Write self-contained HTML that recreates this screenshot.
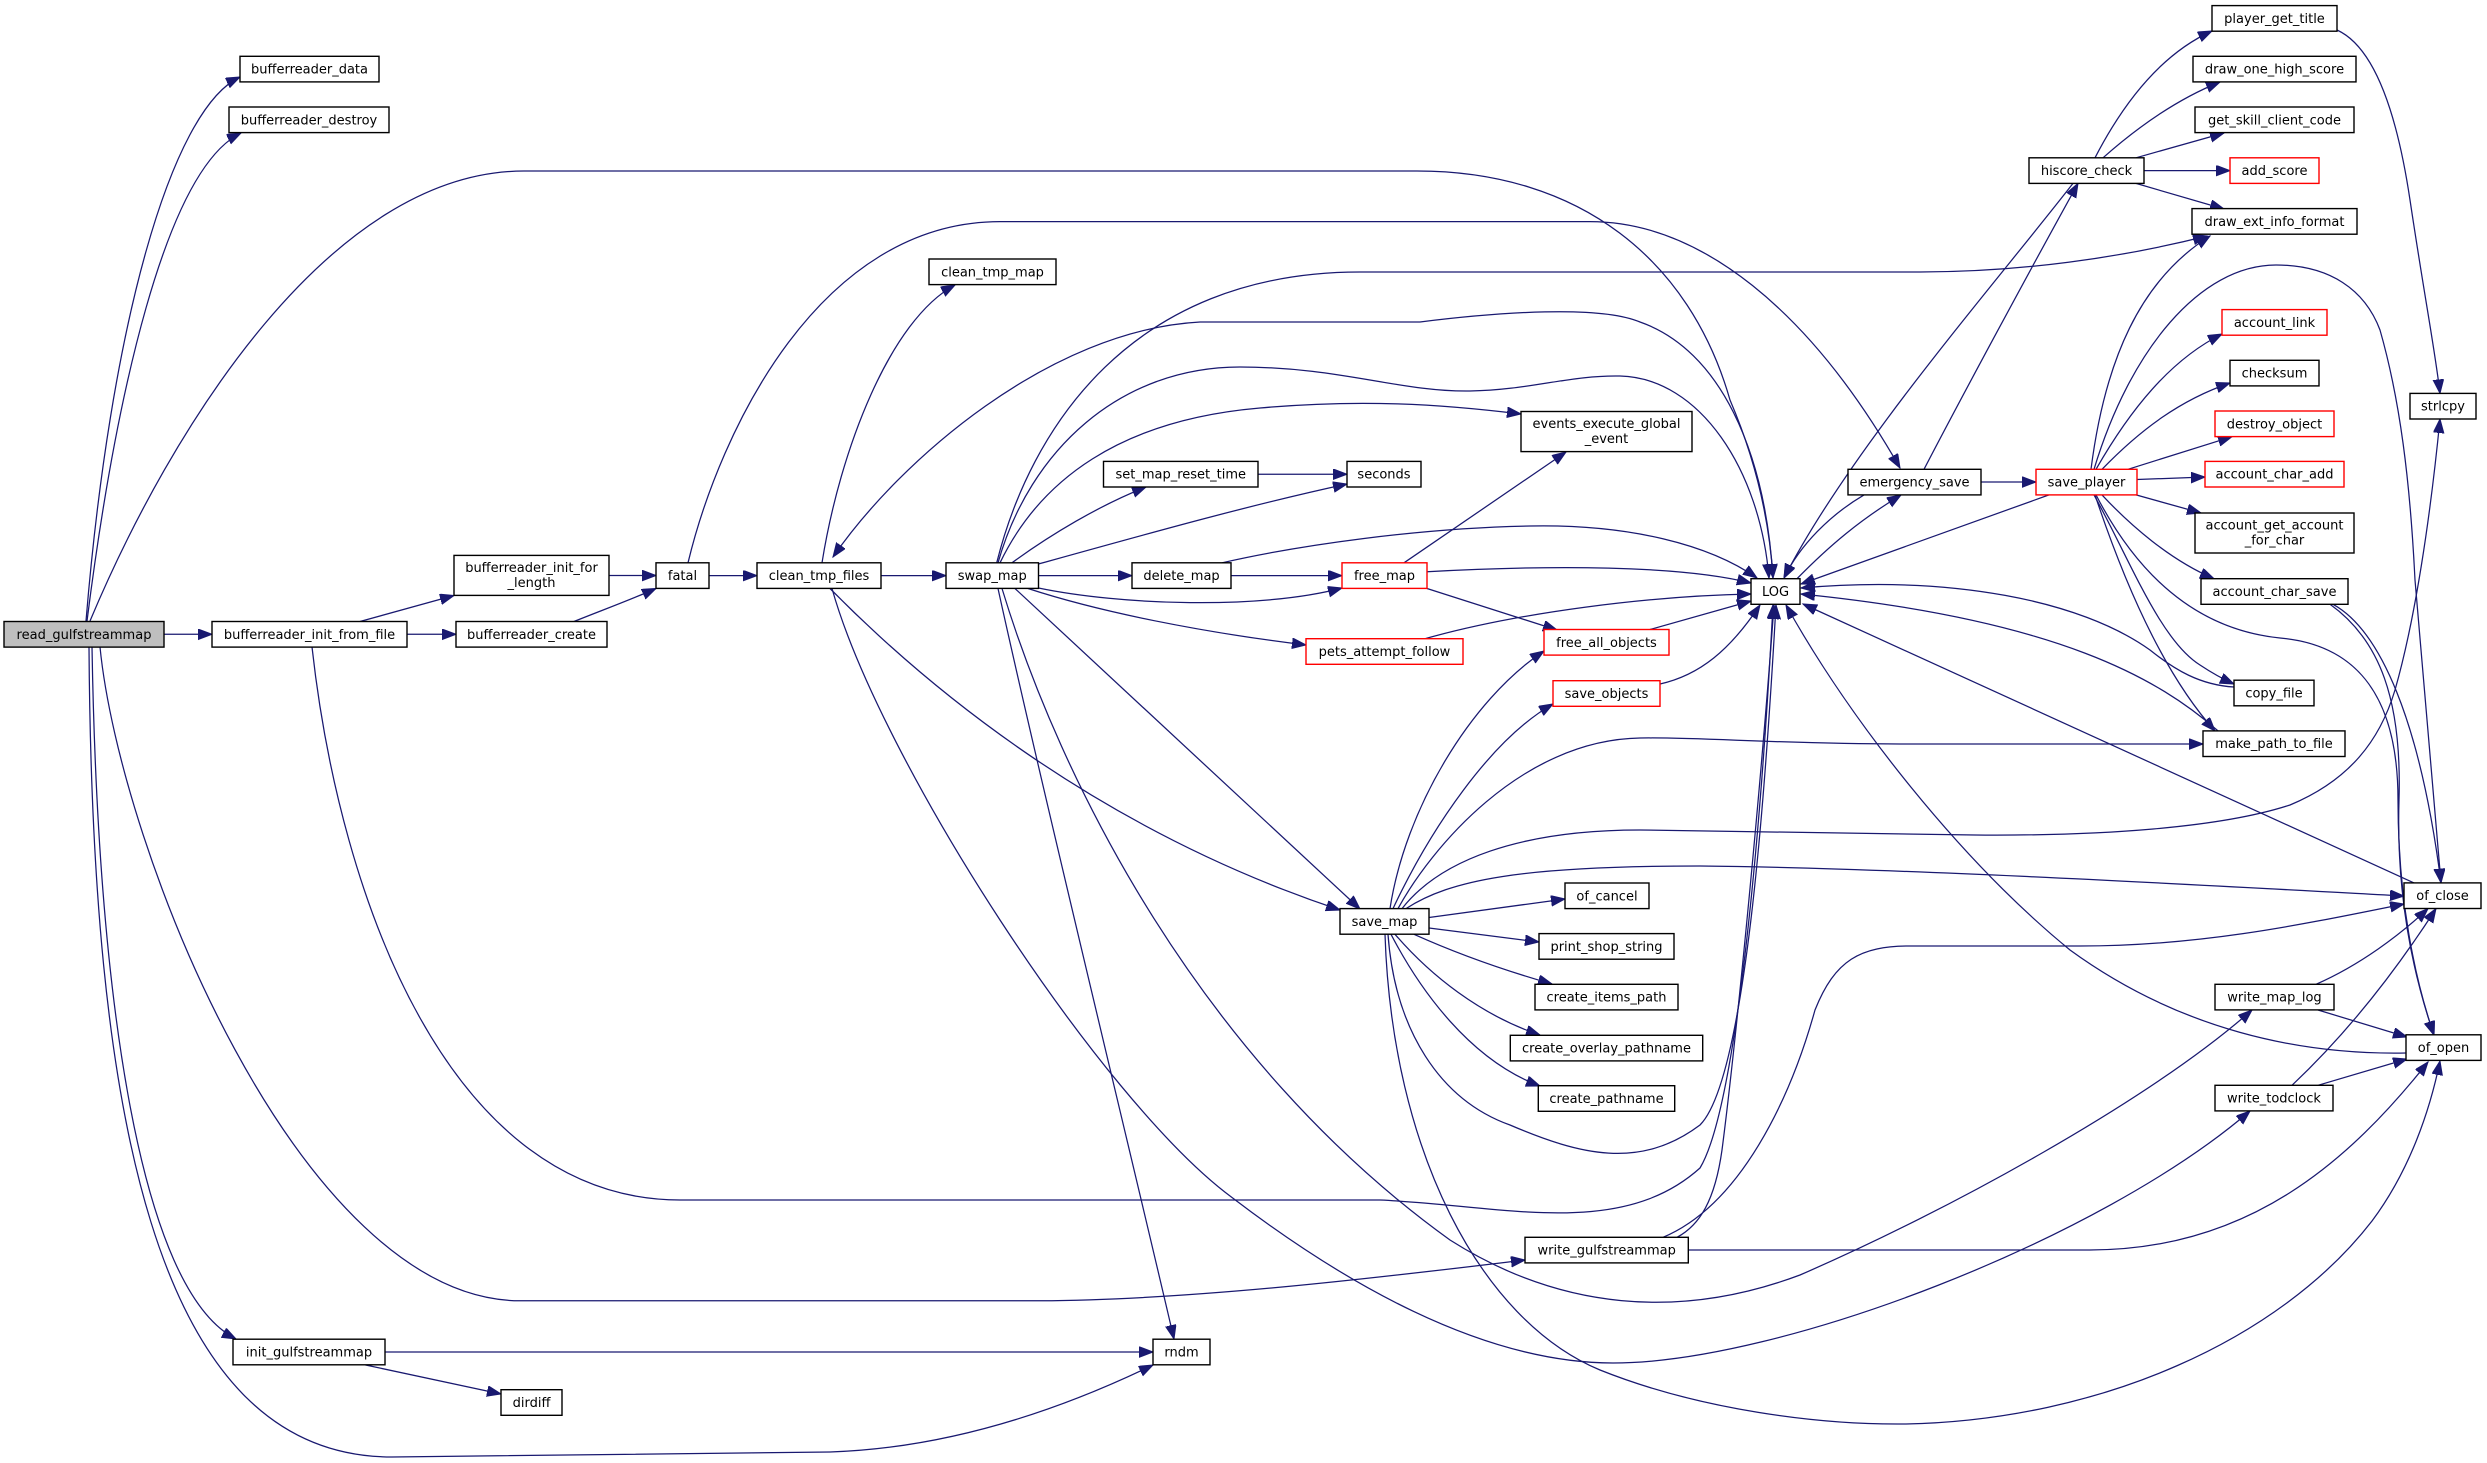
<!DOCTYPE html>
<html><head><meta charset="utf-8"><style>
html,body{margin:0;padding:0;background:#fff;}
svg{display:block;}
text{font-family:"DejaVu Sans","Liberation Sans",sans-serif;font-size:13px;fill:#000;text-anchor:middle;}
.e{fill:none;stroke:#191970;stroke-width:1.25;marker-end:url(#a);}
.n{fill:#fff;stroke:#000;stroke-width:1.4;}
.r{fill:#fff;stroke:#ff0000;stroke-width:1.4;}
</style></head><body>
<svg width="2487" height="1463" viewBox="0 0 2487 1463" xmlns="http://www.w3.org/2000/svg">
<defs><marker id="a" markerWidth="16" markerHeight="12" refX="14" refY="5.3" orient="auto" markerUnits="userSpaceOnUse"><path d="M0,0 L14,5.3 L0,10.6 z" fill="#191970" stroke="#191970" stroke-width="1"/></marker></defs>
<rect width="2487" height="1463" fill="#fff"/>
<g>
<path class="e" d="M86,621 C110,330 170,110 240,77"/>
<path class="e" d="M87,621 C115,400 165,170 241,133"/>
<path class="e" d="M90,621 C170,430 330,171 524,171 L1417,171 C1580,171 1690,260 1730,400 C1760,470 1770,530 1773,578"/>
<path class="e" d="M164,634.3 L212,634.3"/>
<path class="e" d="M100,647 C120,850 300,1300 520,1300.8 L1040,1300.8 C1200,1300 1400,1275 1525,1260"/>
<path class="e" d="M92,647 C98,1000 140,1290 236,1339"/>
<path class="e" d="M89,647 C92,1100 150,1457 392,1457 L830,1452 C950,1448 1060,1410 1153,1365"/>
<path class="e" d="M360,621.5 L454,595.5"/>
<path class="e" d="M407,634.3 L456,634.3"/>
<path class="e" d="M312,647 C340,900 450,1200 680,1200 L1380,1200 C1500,1205 1620,1240 1700,1168 C1735,1110 1760,850 1773,605"/>
<path class="e" d="M609,575.5 L656,575.5"/>
<path class="e" d="M574,621.5 C600,611 630,600 656,588.5"/>
<path class="e" d="M709,575.6 L757,575.6"/>
<path class="e" d="M688,562.8 C720,430 820,221.6 1000,221.6 L1590,221.6 C1700,221.6 1810,310 1900,468"/>
<path class="e" d="M822,562.8 C840,450 890,320 955,285"/>
<path class="e" d="M881,575.6 L946,575.6"/>
<path class="e" d="M830,588.5 C930,690 1100,830 1340,910"/>
<path class="e" d="M832,588.5 C880,760 1100,1100 1232,1197.5 C1340,1280 1480,1363 1613,1363 C1780,1363 2100,1240 2250,1111"/>
<path class="e" d="M1773,578 C1765,450 1720,350 1640,322 C1600,305 1500,312 1420,322 L1200,322 C1050,330 900,460 833,557"/>
<path class="e" d="M996.7,562.8 C1030,430 1130,272 1360,272 L1920,272 C2020,272 2120,258 2207,236"/>
<path class="e" d="M998,562.8 C1030,450 1120,367 1240,367 C1340,367 1400,392 1470,391 C1530,390 1570,375 1620,376 C1700,378 1760,470 1769,578"/>
<path class="e" d="M1000,562.8 C1040,480 1120,420 1260,408 C1360,399 1440,404 1521,414"/>
<path class="e" d="M1012,562.8 C1050,535 1100,505 1146,487"/>
<path class="e" d="M1038.5,564 C1150,533 1250,505 1347,484"/>
<path class="e" d="M1258,474.2 L1347,474.2"/>
<path class="e" d="M1038.5,575.6 L1132,575.6"/>
<path class="e" d="M1231,575.6 L1342,575.6"/>
<path class="e" d="M1222,562.8 C1300,545 1420,528 1530,526 C1630,524 1710,545 1757,578"/>
<path class="e" d="M1427,571.7 C1550,565 1680,565 1751,583"/>
<path class="e" d="M1038.5,588 C1120,605 1260,610 1342,588"/>
<path class="e" d="M1028,588.5 C1100,612 1200,632 1306,645"/>
<path class="e" d="M1425,638.7 C1520,612 1650,596 1751,594"/>
<path class="e" d="M1404,562.8 L1566,452"/>
<path class="e" d="M1427,588.5 L1557,630"/>
<path class="e" d="M1650,629.5 L1751,601"/>
<path class="e" d="M1660,684 C1700,675 1730,650 1760,605"/>
<path class="e" d="M1390,908.6 C1405,810 1470,700 1544,651"/>
<path class="e" d="M1393,908.6 C1430,830 1490,740 1553,704"/>
<path class="e" d="M1398,908.6 C1430,850 1520,740 1640,738 C1700,737 1780,744 1900,744 L2203,744"/>
<path class="e" d="M1402,908.6 C1440,860 1520,830 1640,830 L1975,835 C2100,836 2220,828 2290,805 C2350,780 2380,740 2395,690 C2415,620 2430,520 2440,419"/>
<path class="e" d="M1406,908.6 C1450,880 1520,866 1700,866 C1900,868 2200,885 2404,896"/>
<path class="e" d="M1429,917.5 L1565,899"/>
<path class="e" d="M1429,928 L1539,942"/>
<path class="e" d="M1414,934.3 C1460,955 1510,972 1552,984"/>
<path class="e" d="M1395,934.3 C1430,975 1480,1015 1540,1035"/>
<path class="e" d="M1391,934.3 C1420,990 1470,1060 1540,1086"/>
<path class="e" d="M1388,934.3 C1395,1030 1440,1100 1510,1125 C1580,1155 1640,1170 1700,1125 C1745,1080 1765,800 1776,605"/>
<path class="e" d="M1385,934.3 C1392,1150 1480,1320 1600,1370 C1700,1410 1820,1425 1906,1424 C2100,1420 2280,1340 2372,1221 C2410,1170 2430,1110 2440,1061"/>
<path class="e" d="M1015,588.5 L1360,909"/>
<path class="e" d="M998,588.5 C1040,780 1130,1150 1174,1339"/>
<path class="e" d="M1002,588.5 C1060,780 1200,1060 1450,1240 C1560,1310 1680,1320 1800,1275 C1950,1210 2150,1100 2252,1010"/>
<path class="e" d="M385,1352 L1153,1352"/>
<path class="e" d="M365,1364.9 L501,1394"/>
<path class="e" d="M1688,1250 L2090,1250 C2250,1250 2350,1160 2428,1062"/>
<path class="e" d="M1677,1237.3 C1700,1225 1715,1200 1722,1150 C1735,1050 1760,800 1774,605"/>
<path class="e" d="M1663,1237.3 C1740,1205 1790,1100 1815,1010 C1835,960 1860,946 1910,946 L2080,946 C2200,946 2300,925 2404,904"/>
<path class="e" d="M1864,494.9 C1830,515 1800,545 1784,578"/>
<path class="e" d="M1797,578.7 C1830,545 1860,520 1901,495"/>
<path class="e" d="M2073,183.4 C1990,290 1850,450 1784,578"/>
<path class="e" d="M1924,469.3 C1960,400 2030,270 2078,183.4"/>
<path class="e" d="M1981,482 L2036,482"/>
<path class="e" d="M2049,494.9 L1801,584"/>
<path class="e" d="M2095,157.8 C2130,90 2170,50 2212,31"/>
<path class="e" d="M2103,157.8 C2140,125 2180,98 2220,82"/>
<path class="e" d="M2136,157.8 L2224,133"/>
<path class="e" d="M2144,170.6 L2230,170.6"/>
<path class="e" d="M2136,183.4 L2224,209"/>
<path class="e" d="M2337,30 C2370,45 2395,100 2410,200 C2425,300 2435,350 2440,393.4"/>
<path class="e" d="M2091,469.3 C2105,360 2140,280 2210,236"/>
<path class="e" d="M2094,469.3 C2130,350 2200,265 2276,265 C2330,265 2365,290 2380,330 C2400,400 2410,480 2415,580 L2441,882.7"/>
<path class="e" d="M2096,469.3 C2130,410 2170,360 2222,334"/>
<path class="e" d="M2102,469.3 C2140,430 2180,400 2230,383"/>
<path class="e" d="M2128,469.3 L2232,436.7"/>
<path class="e" d="M2137,479.5 L2205,477"/>
<path class="e" d="M2136,494.9 L2201,513"/>
<path class="e" d="M2102,494.9 C2130,525 2170,560 2214,578.7"/>
<path class="e" d="M2094,494.9 C2130,560 2160,640 2200,665 C2215,675 2225,680 2234,684"/>
<path class="e" d="M2234,687 C2200,685 2175,670 2150,650 C2080,600 1950,575 1801,588"/>
<path class="e" d="M2095,494.9 C2120,570 2160,670 2215,731"/>
<path class="e" d="M2218,730.9 C2160,680 2060,620 1801,594"/>
<path class="e" d="M2414,882.9 L1803,604"/>
<path class="e" d="M2406,1053 C2300,1055 2180,1030 2070,950 C1960,860 1850,720 1786,605"/>
<path class="e" d="M2333,604.3 C2380,630 2420,720 2441,882.7"/>
<path class="e" d="M2330,604.3 C2380,640 2402,700 2399,800 C2396,900 2415,980 2434,1035"/>
<path class="e" d="M2096,494.9 C2140,580 2200,630 2280,638 C2360,645 2398,700 2398,800 C2398,900 2415,980 2434,1035"/>
<path class="e" d="M2316,984.3 C2360,965 2400,935 2428,908.6"/>
<path class="e" d="M2318,1010 L2407,1037"/>
<path class="e" d="M2292,1085.3 C2340,1040 2390,980 2436,908.6"/>
<path class="e" d="M2318,1085.3 L2407,1059"/>
</g>
<g>
<rect x="4" y="621.5" width="160" height="25.6" fill="#bfbfbf" stroke="#000" stroke-width="1.4"/><text x="84" y="638.8">read_gulfstreammap</text>
<rect class="n" x="240" y="56.3" width="139" height="25.6"/><text x="309.5" y="73.6">bufferreader_data</text>
<rect class="n" x="229" y="107" width="160" height="25.6"/><text x="309" y="124.3">bufferreader_destroy</text>
<rect class="n" x="212" y="621.5" width="195" height="25.6"/><text x="309.5" y="638.8">bufferreader_init_from_file</text>
<rect class="n" x="454" y="555.4" width="155" height="40"/><text x="531.5" y="571.9">bufferreader_init_for</text><text x="531.5" y="586.9">_length</text>
<rect class="n" x="456" y="621.5" width="151" height="25.6"/><text x="531.5" y="638.8">bufferreader_create</text>
<rect class="n" x="656" y="562.8" width="53" height="25.6"/><text x="682.5" y="580.1">fatal</text>
<rect class="n" x="757" y="562.8" width="124" height="25.6"/><text x="819" y="580.1">clean_tmp_files</text>
<rect class="n" x="929" y="259" width="127" height="25.6"/><text x="992.5" y="276.3">clean_tmp_map</text>
<rect class="n" x="946" y="562.8" width="92.5" height="25.6"/><text x="992.25" y="580.1">swap_map</text>
<rect class="n" x="1103.5" y="461.4" width="154.5" height="25.6"/><text x="1180.75" y="478.7">set_map_reset_time</text>
<rect class="n" x="1347" y="461.4" width="74" height="25.6"/><text x="1384" y="478.7">seconds</text>
<rect class="n" x="1521" y="411.5" width="171" height="40.1"/><text x="1606.5" y="428">events_execute_global</text><text x="1606.5" y="443">_event</text>
<rect class="n" x="1132" y="562.8" width="99" height="25.6"/><text x="1181.5" y="580.1">delete_map</text>
<rect class="r" x="1342" y="562.8" width="85" height="25.6"/><text x="1384.5" y="580.1">free_map</text>
<rect class="r" x="1306" y="638.7" width="157" height="25.6"/><text x="1384.5" y="656">pets_attempt_follow</text>
<rect class="r" x="1544" y="629.5" width="125" height="25.6"/><text x="1606.5" y="646.8">free_all_objects</text>
<rect class="r" x="1553" y="680.7" width="107" height="25.6"/><text x="1606.5" y="698">save_objects</text>
<rect class="n" x="1340" y="908.6" width="89" height="25.6"/><text x="1384.5" y="925.9">save_map</text>
<rect class="n" x="1565" y="883" width="84" height="25.6"/><text x="1607" y="900.3">of_cancel</text>
<rect class="n" x="1539" y="933.6" width="135" height="25.6"/><text x="1606.5" y="950.9">print_shop_string</text>
<rect class="n" x="1535" y="984.3" width="143" height="25.6"/><text x="1606.5" y="1001.6">create_items_path</text>
<rect class="n" x="1510.3" y="1035.3" width="192.4" height="25.6"/><text x="1606.5" y="1052.6">create_overlay_pathname</text>
<rect class="n" x="1538.3" y="1085.7" width="136.4" height="25.6"/><text x="1606.5" y="1103">create_pathname</text>
<rect class="n" x="1525" y="1237.3" width="163.3" height="25.6"/><text x="1606.7" y="1254.6">write_gulfstreammap</text>
<rect class="n" x="233" y="1339.2" width="152" height="25.6"/><text x="309" y="1356.5">init_gulfstreammap</text>
<rect class="n" x="501" y="1389.7" width="61" height="25.6"/><text x="531.5" y="1407">dirdiff</text>
<rect class="n" x="1153" y="1339.2" width="57" height="25.6"/><text x="1181.5" y="1356.5">rndm</text>
<rect class="n" x="1751" y="578.7" width="49" height="25.6"/><text x="1775.5" y="596">LOG</text>
<rect class="n" x="1848" y="469.3" width="133" height="25.6"/><text x="1914.5" y="486.6">emergency_save</text>
<rect class="r" x="2036" y="469.3" width="101" height="25.6"/><text x="2086.5" y="486.6">save_player</text>
<rect class="n" x="2029" y="157.8" width="115" height="25.6"/><text x="2086.5" y="175.1">hiscore_check</text>
<rect class="n" x="2212" y="5.6" width="125" height="25.6"/><text x="2274.5" y="22.9">player_get_title</text>
<rect class="n" x="2193" y="56.3" width="163" height="25.6"/><text x="2274.5" y="73.6">draw_one_high_score</text>
<rect class="n" x="2195" y="107" width="159" height="25.6"/><text x="2274.5" y="124.3">get_skill_client_code</text>
<rect class="r" x="2230" y="157.8" width="89" height="25.6"/><text x="2274.5" y="175.1">add_score</text>
<rect class="n" x="2192" y="208.6" width="165" height="25.6"/><text x="2274.5" y="225.9">draw_ext_info_format</text>
<rect class="r" x="2222" y="309.6" width="105" height="25.6"/><text x="2274.5" y="326.9">account_link</text>
<rect class="n" x="2230" y="360.3" width="89" height="25.6"/><text x="2274.5" y="377.6">checksum</text>
<rect class="r" x="2215" y="411" width="119" height="25.6"/><text x="2274.5" y="428.3">destroy_object</text>
<rect class="r" x="2205" y="461.4" width="139" height="25.6"/><text x="2274.5" y="478.7">account_char_add</text>
<rect class="n" x="2195" y="513" width="159" height="40"/><text x="2274.5" y="529.5">account_get_account</text><text x="2274.5" y="544.5">_for_char</text>
<rect class="n" x="2201" y="578.7" width="147" height="25.6"/><text x="2274.5" y="596">account_char_save</text>
<rect class="n" x="2410" y="393.4" width="66" height="25.6"/><text x="2443" y="410.7">strlcpy</text>
<rect class="n" x="2234" y="680.2" width="80" height="25.6"/><text x="2274" y="697.5">copy_file</text>
<rect class="n" x="2203" y="730.9" width="142" height="25.6"/><text x="2274" y="748.2">make_path_to_file</text>
<rect class="n" x="2404" y="882.9" width="77" height="25.6"/><text x="2442.5" y="900.2">of_close</text>
<rect class="n" x="2406" y="1034.8" width="75" height="25.6"/><text x="2443.5" y="1052.1">of_open</text>
<rect class="n" x="2215" y="984.3" width="119" height="25.6"/><text x="2274.5" y="1001.6">write_map_log</text>
<rect class="n" x="2215" y="1085.3" width="118" height="25.6"/><text x="2274" y="1102.6">write_todclock</text>
</g>
</svg>
</body></html>
